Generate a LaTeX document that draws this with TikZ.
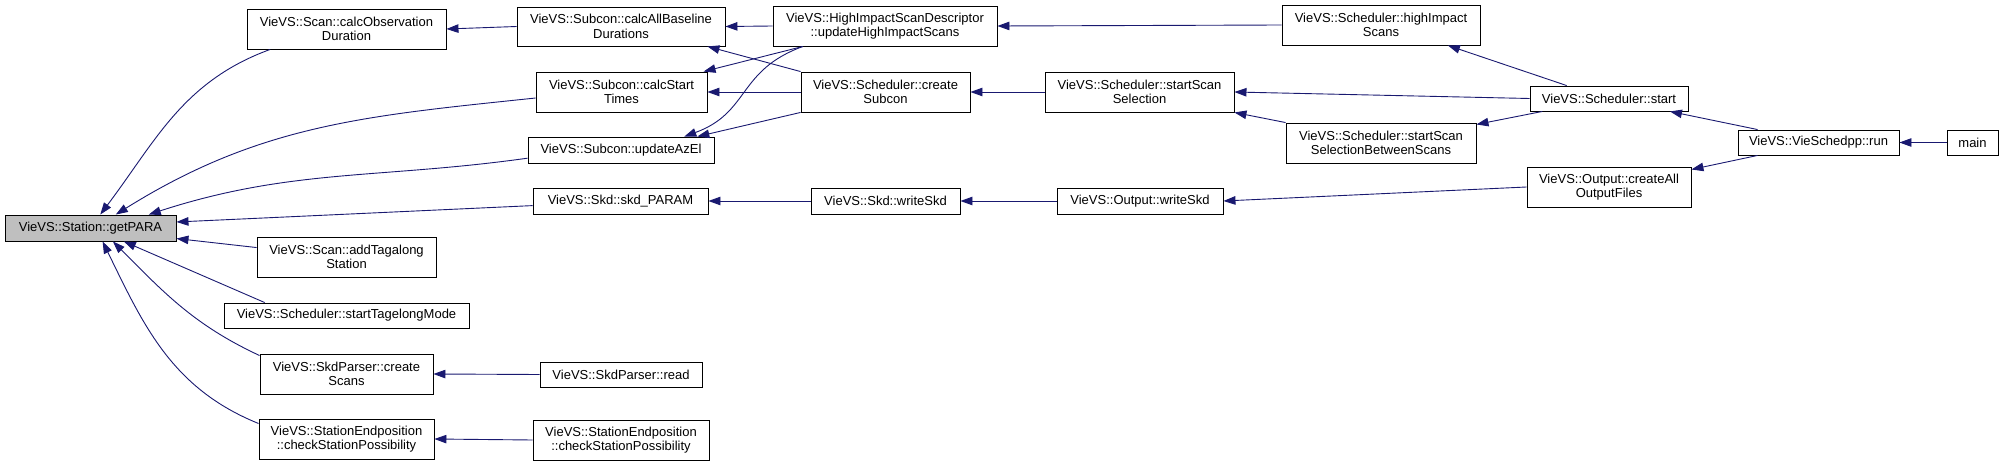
\documentclass[tikz,border=0pt]{standalone}
\usepackage{fontspec}
\setmainfont{Liberation Sans}
\usepackage{tikz}
\usetikzlibrary{arrows.meta, positioning, calc}
\definecolor{mblue}{RGB}{25,25,112}
\definecolor{pgray}{RGB}{191,191,191}

\begin{document}
\begin{tikzpicture}[x=1pt, y=-1pt, font=\fontsize{13pt}{14.5pt}\selectfont, >={Triangle[length=12pt, width=8.5pt]},
  b/.style={draw=black, fill=white, line width=0.9pt, align=center, inner sep=0pt, minimum height=26pt},
  bb/.style={b, minimum height=40pt},
  e/.style={->, draw=mblue, line width=0.9pt}]
\useasboundingbox (0,0) rectangle (2008,465);
% column 0
\node[b, fill=pgray, minimum width=171pt] (P) at (90.5,228) {VieVS::Station::getPARA};
% column 1
\node[bb, minimum width=199pt] (OD) at (346.5,29) {VieVS::Scan::calcObservation\\Duration};
\node[bb, minimum width=179pt] (AT) at (346.5,257) {VieVS::Scan::addTagalong\\Station};
\node[b, minimum width=245pt, minimum height=25pt] (TM) at (346.5,315.5) {VieVS::Scheduler::startTagelongMode};
\node[bb, minimum width=173pt] (CS) at (346.5,374) {VieVS::SkdParser::create\\Scans};
\node[bb, minimum width=175pt] (CP) at (346.5,439) {VieVS::StationEndposition\\::checkStationPossibility};
% column 2
\node[bb, minimum width=208pt, minimum height=39pt] (BD) at (621,26.5) {VieVS::Subcon::calcAllBaseline\\Durations};
\node[bb, minimum width=171pt] (ST) at (621.5,92) {VieVS::Subcon::calcStart\\Times};
\node[b, minimum width=186pt] (AZ) at (621,150) {VieVS::Subcon::updateAzEl};
\node[b, minimum width=175pt] (SP) at (620.5,201) {VieVS::Skd::skd\_PARAM};
\node[b, minimum width=162pt, minimum height=25pt] (RD) at (621,374.5) {VieVS::SkdParser::read};
\node[bb, minimum width=176pt] (CP2) at (621,440) {VieVS::StationEndposition\\::checkStationPossibility};
% column 3
\node[bb, minimum width=224pt] (HD) at (885,26) {VieVS::HighImpactScanDescriptor\\::updateHighImpactScans};
\node[bb, minimum width=169pt] (CSub) at (885.5,92) {VieVS::Scheduler::create\\Subcon};
\node[b, minimum width=149pt] (WS) at (885.5,201) {VieVS::Skd::writeSkd};
% column 4
\node[bb, minimum width=189pt] (SS) at (1139.5,92) {VieVS::Scheduler::startScan\\Selection};
\node[b, minimum width=166pt] (OW) at (1140,201) {VieVS::Output::writeSkd};
% column 5
\node[bb, minimum width=198pt] (HS) at (1381,25) {VieVS::Scheduler::highImpact\\Scans};
\node[bb, minimum width=190pt] (SB) at (1381,143) {VieVS::Scheduler::startScan\\SelectionBetweenScans};
% column 6
\node[b, minimum width=158pt, minimum height=25pt] (START) at (1609,98.5) {VieVS::Scheduler::start};
\node[bb, minimum width=164pt] (OF) at (1609,187) {VieVS::Output::createAll\\OutputFiles};
% column 7, 8
\node[b, minimum width=161pt, minimum height=25pt] (RUN) at (1818.5,142.5) {VieVS::VieSchedpp::run};
\node[b, minimum width=51pt, minimum height=25pt] (MAIN) at (1972.5,142.5) {main};
% callers of getPARA
\draw[e] (OD.195) to[out=200, in=53] (P.54);
\draw[e] (ST.184) to[out=186, in=32] (P.28);
\draw[e] (AZ.185) to[out=188, in=18] (P.13);
\draw[e] (SP.183) -- (P.4); \draw[e] (AT.174) -- (P.-7); \draw[e] (TM.171) -- (P.-22);
\draw[e] (CS.168) to[out=155, in=-45] (P.-31);
\draw[e] (CP.170) to[out=158, in=-64] (P.-48);
% the rest
\draw[e] (BD.west) -- (OD.east); \draw[e] (HD.west) -- (BD.east); \draw[e] (CSub.north west) -- (BD.-13);
\draw[e] (HD.194) -- (ST.14); \draw[e] (CSub.west) -- (ST.east);
\draw[e] (HD.194) to[out=200, in=20, looseness=1.2] (AZ.12);
\draw[e] (CSub.south west) -- (AZ.10);
\draw[e] (HS.west) -- (HD.east); \draw[e] (SS.west) -- (CSub.east);
\draw[e] (WS.west) -- (SP.east); \draw[e] (OW.west) -- (WS.east); \draw[e] (OF.west) -- (OW.east);
\draw[e] (RD.west) -- (CS.east); \draw[e] (CP2.west) -- (CP.east);
\draw[e] (START.163) -- (HS.-17); \draw[e] (START.west) -- (SS.east); \draw[e] (START.191) -- (SB.11);
\draw[e] (SB.north west) -- (SS.south east);
\draw[e] (RUN.168) -- (START.-12); \draw[e] (RUN.192) -- (OF.12); \draw[e] (MAIN.west) -- (RUN.east);
\end{tikzpicture}
\end{document}
